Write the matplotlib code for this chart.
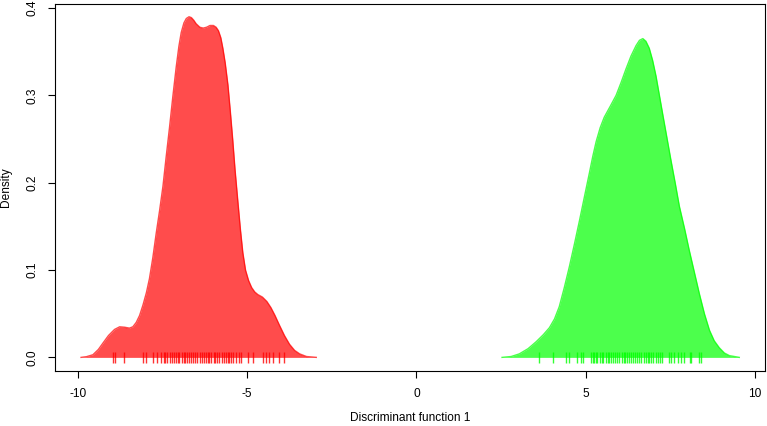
import matplotlib
matplotlib.use("Agg")
import matplotlib.pyplot as plt

# ---- data ----
red_x = [-9.91, -9.75, -9.56, -9.40, -9.27, -9.10, -8.92, -8.77, -8.62, -8.48,
         -8.38, -8.28, -8.18, -8.08, -7.98, -7.89, -7.79, -7.69, -7.59, -7.49,
         -7.40, -7.30, -7.20, -7.10, -7.02, -6.95, -6.87, -6.80, -6.72, -6.65,
         -6.58, -6.51, -6.40, -6.30, -6.20, -6.10, -6.00, -5.92, -5.85, -5.78,
         -5.72, -5.65, -5.57, -5.50, -5.43, -5.36, -5.28, -5.20, -5.13, -5.05,
         -4.96, -4.87, -4.78, -4.69, -4.55, -4.42, -4.30, -4.18, -4.05, -3.90,
         -3.75, -3.60, -3.45, -3.25, -2.96]
red_y = [0.000, 0.0008, 0.003, 0.009, 0.016, 0.025, 0.032, 0.035, 0.0345, 0.0335,
         0.035, 0.040, 0.048, 0.060, 0.074, 0.090, 0.114, 0.142, 0.168, 0.196,
         0.228, 0.262, 0.298, 0.332, 0.356, 0.372, 0.383, 0.388, 0.390, 0.389,
         0.386, 0.382, 0.378, 0.377, 0.378, 0.380, 0.380, 0.378, 0.374, 0.366,
         0.354, 0.337, 0.312, 0.282, 0.250, 0.215, 0.180, 0.146, 0.120, 0.100,
         0.088, 0.080, 0.075, 0.072, 0.069, 0.064, 0.057, 0.048, 0.037, 0.025,
         0.015, 0.008, 0.004, 0.001, 0.000]

green_x = [2.53, 2.80, 3.04, 3.30, 3.54, 3.75, 3.93, 4.08, 4.22, 4.37, 4.52,
           4.67, 4.82, 4.97, 5.11, 5.21, 5.31, 5.43, 5.55, 5.72, 5.90, 6.05,
           6.19, 6.34, 6.49, 6.59, 6.69, 6.78, 6.88, 6.98, 7.08, 7.18, 7.28,
           7.40, 7.52, 7.65, 7.77, 7.92, 8.06, 8.21, 8.36, 8.51, 8.66, 8.80,
           8.95, 9.10, 9.25, 9.54]
green_y = [0.000, 0.001, 0.004, 0.010, 0.018, 0.026, 0.034, 0.044, 0.058, 0.080,
           0.104, 0.130, 0.157, 0.185, 0.211, 0.230, 0.247, 0.263, 0.275, 0.287,
           0.300, 0.315, 0.330, 0.345, 0.357, 0.363, 0.365, 0.362, 0.354, 0.340,
           0.322, 0.300, 0.278, 0.252, 0.226, 0.199, 0.173, 0.148, 0.123, 0.098,
           0.073, 0.050, 0.031, 0.019, 0.011, 0.005, 0.002, 0.000]

red_rug = [-8.97, -8.92, -8.65, -8.09, -7.99, -7.79, -7.67, -7.55, -7.47, -7.42,
           -7.36, -7.28, -7.21, -7.16, -7.10, -7.06, -7.02, -6.94, -6.88, -6.84,
           -6.77, -6.71, -6.65, -6.59, -6.53, -6.48, -6.41, -6.35, -6.28, -6.23,
           -6.17, -6.12, -6.06, -5.99, -5.94, -5.89, -5.82, -5.76, -5.70, -5.64,
           -5.58, -5.55, -5.49, -5.43, -5.33, -5.23, -5.18, -4.98, -4.84, -4.54,
           -4.44, -4.36, -4.25, -4.05, -3.92]
green_rug = [3.61, 4.03, 4.42, 4.50, 4.74, 4.87, 4.93, 5.17, 5.21, 5.26, 5.30,
             5.35, 5.41, 5.47, 5.52, 5.60, 5.66, 5.70, 5.76, 5.82, 5.88, 5.94,
             6.00, 6.06, 6.12, 6.17, 6.23, 6.29, 6.35, 6.41, 6.47, 6.53, 6.59,
             6.65, 6.71, 6.77, 6.83, 6.88, 6.94, 7.00, 7.09, 7.15, 7.21, 7.27,
             7.45, 7.52, 7.62, 7.72, 7.82, 7.92, 8.07, 8.12, 8.36, 8.41]

x_ticks = [-10, -5, 0, 5, 10]
x_ticklabels = ["-10", "-5", "0", "5", "10"]
y_ticks = [0.0, 0.1, 0.2, 0.3, 0.4]
y_ticklabels = ["0.0", "0.1", "0.2", "0.3", "0.4"]

plt.rcParams['font.family'] = ['Liberation Sans', 'DejaVu Sans']

fig = plt.figure(figsize=(7.67, 4.26), dpi=100)
ax = fig.add_axes([55/767, 55/426, (765-55)/767, (371-4)/426])

ax.fill_between(red_x, red_y, 0, color=(1, 0, 0, 0.7), linewidth=0)
ax.plot(red_x, red_y, color=(1, 0, 0, 0.7), lw=1.0, solid_joinstyle='round')
ax.fill_between(green_x, green_y, 0, color=(0, 1, 0, 0.7), linewidth=0)
ax.plot(green_x, green_y, color=(0, 1, 0, 0.7), lw=1.0, solid_joinstyle='round')

ax.vlines(red_rug, -0.0065, 0.0065, color=(1, 0, 0, 0.8), lw=1.0)
ax.vlines(green_rug, -0.0065, 0.0065, color=(0, 1, 0, 0.8), lw=1.0)

ax.set_xlim(-10.68, 10.3)
ax.set_ylim(-0.0156, 0.4046)

ax.set_xticks(x_ticks)
ax.set_xticklabels(x_ticklabels)
ax.set_yticks(y_ticks)
ax.set_yticklabels(y_ticklabels, rotation=90, va='center')

ax.tick_params(axis='both', direction='out', length=5, width=0.8,
               labelsize=8.6, color='black')
ax.tick_params(axis='x', pad=7)
ax.tick_params(axis='y', pad=7)

for s in ax.spines.values():
    s.set_linewidth(0.8)
    s.set_color('black')

ax.set_xlabel("Discriminant function 1", fontsize=8.6, labelpad=9)
ax.set_ylabel("Density", fontsize=8.6, labelpad=10)

fig.savefig("out.png", dpi=100)
